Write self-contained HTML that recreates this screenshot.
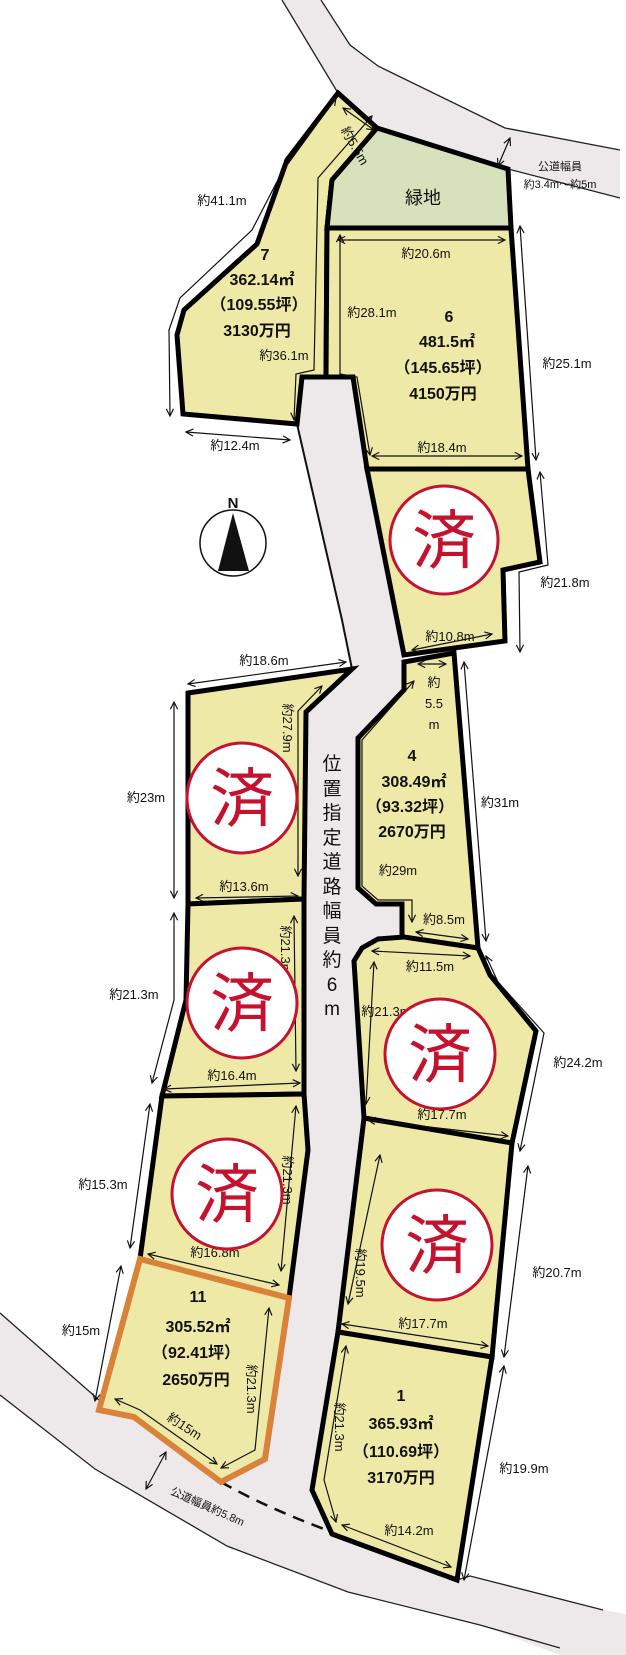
<!DOCTYPE html>
<html><head><meta charset="utf-8"><style>
html,body{margin:0;padding:0;background:#fff;}
svg{display:block;}
text{font-family:"Liberation Sans","Noto Sans CJK JP",sans-serif;fill:#111;}
.b{font-weight:bold;font-size:16px;text-anchor:middle;}
.d{font-size:13px;text-anchor:middle;}
.lot{fill:#efe9a8;stroke:#000;stroke-width:5;stroke-linejoin:miter;}
.ar{fill:none;stroke:#111;stroke-width:1.2;marker-start:url(#m);marker-end:url(#m);}
.sold circle{fill:#fff;stroke:#c4122f;stroke-width:3;}
.sold text{fill:#c4122f;font-size:64px;text-anchor:middle;font-family:"Noto Sans CJK JP",sans-serif;}
</style></head><body>
<svg width="626" height="1655" viewBox="0 0 626 1655" xmlns="http://www.w3.org/2000/svg">
<defs>
<marker id="m" viewBox="0 0 10 10" refX="9" refY="5" markerWidth="9" markerHeight="9" orient="auto-start-reverse" markerUnits="userSpaceOnUse">
<path d="M1,1 L9,5 L1,9" fill="none" stroke="#111" stroke-width="1.3"/>
</marker>
</defs>
<!-- roads -->
<path d="M282,0 L321,0 L350,45 L378,66 L505,128 L620,150 L620,198 L508,169 L377,128 L338,93 Z" fill="#ede9ea"/>
<path d="M282,0 L338,93 M321,0 L350,45 L378,66 L505,128 L620,150 M508,169 L620,198" fill="none" stroke="#222" stroke-width="1.3"/>
<path d="M0,1313 L93,1396 L134,1417 L221,1482 L263,1504 L332,1534 L457,1580 L470,1576 L603,1610 L626,1614 L626,1655 L560,1655 L480,1625 L348,1592 L227,1546 L95,1469 L0,1395 Z" fill="#ede9ea"/>
<path d="M0,1313 L99,1400 M457,1580 L470,1576 L603,1610 M0,1395 L95,1469 L227,1546 L348,1592 L480,1625 L560,1648" fill="none" stroke="#222" stroke-width="1.3"/>
<path d="M302,377 L353,377 L367,469 L404,655 L404,690 L358,738 L358,888 L376,904 L402,904 L402,937 L354,961 L364,1118 L338,1332 L312,1490 L332,1534 L263,1504 L221,1482 L265,1459 L287,1299 L308,1150 L304,1094 L304,900 L306,712 L352,669 L342,620 L297,424 Z" fill="#ede9ea"/>
<path d="M297,424 L342,620 L352,669" fill="none" stroke="#111" stroke-width="2"/>
<path d="M221,1482 Q263,1506 324,1529" fill="none" stroke="#111" stroke-width="2.5" stroke-dasharray="12,8"/>

<!-- lots -->
<path class="lot" d="M338,93 L377,128 L332,180 L327,228 L326,377 L302,377 L297,424 L183,414 L177,335 L184,310 L257,244 L287,160 Z"/>
<path d="M377,128 L508,169 L511,228 L327,228 L332,180 Z" fill="#d7e1bc" stroke="#000" stroke-width="5"/>
<path class="lot" d="M327,228 L511,228 L528,469 L367,469 L353,377 L326,377 Z"/>
<path class="lot" d="M367,469 L528,469 L540,562 L503,570 L505,641 L404,655 Z"/>
<path class="lot" d="M404,662 L454,653 L478,948 L402,937 L402,904 L376,904 L358,888 L358,738 L404,690 Z"/>
<path class="lot" d="M354,961 L362,948 L378,939 L404,937 L478,948 L490,975 L536,1031 L512,1143 L364,1118 Z"/>
<path class="lot" d="M364,1118 L512,1143 L492,1357 L338,1332 Z"/>
<path class="lot" d="M338,1332 L492,1357 L457,1580 L332,1534 L312,1490 Z"/>
<path class="lot" d="M188,693 L352,669 L306,712 L304,899 L188,904 Z"/>
<path class="lot" d="M188,904 L304,899 L304,1094 L162,1096 L186,1000 Z"/>
<path class="lot" d="M162,1096 L304,1094 L308,1150 L289,1298 L140,1259 Z"/>
<path d="M140,1259 L289,1298 L265,1459 L221,1482 L134,1417 L99,1410 Z" fill="#efe9a8" stroke="#d9823a" stroke-width="6"/>

<!-- arrows -->
<path class="ar" d="M336,98 L282,172 L252,230 L180,298 L169,330 L170,416"/>
<path class="ar" d="M186,432 L290,440"/>
<path class="ar" d="M372,116 L318,178 L314,370 L296,374 L294,420"/>
<path class="ar" d="M343,108 L374,130"/>
<path class="ar" d="M338,240 L505,240"/>
<path class="ar" d="M340,235 L340,374 L357,377 L370,455"/>
<path class="ar" d="M520,226 L536,460"/>
<path class="ar" d="M372,456 L522,456"/>
<path class="ar" d="M540,472 L548,565 L519,572 L520,652"/>
<path class="ar" d="M412,650 L492,634"/>
<path class="ar" d="M510,138 L498,166"/>
<path class="ar" d="M188,684 L346,662"/>
<path class="ar" d="M322,686 L298,711 L298,876"/>
<path class="ar" d="M174,702 L174,898"/>
<path class="ar" d="M196,898 L298,896"/>
<path class="ar" d="M418,664 L446,664"/>
<path class="ar" d="M414,681 L362,740 L362,886 L378,900 L412,900 L412,922"/>
<path class="ar" d="M464,662 L486,941"/>
<path class="ar" d="M416,932 L468,939"/>
<path class="ar" d="M372,951 L470,956"/>
<path class="ar" d="M174,913 L174,1000 L152,1083"/>
<path class="ar" d="M294,916 L296,1071"/>
<path class="ar" d="M164,1089 L300,1083"/>
<path class="ar" d="M374,962 L366,1104"/>
<path class="ar" d="M486,956 L498,982 L544,1033 L520,1151"/>
<path class="ar" d="M368,1120 L508,1136"/>
<path class="ar" d="M296,1106 L281,1271"/>
<path class="ar" d="M150,1104 L130,1248"/>
<path class="ar" d="M148,1254 L279,1285"/>
<path class="ar" d="M121,1266 L95,1401"/>
<path class="ar" d="M269,1308 L255,1450 L221,1468"/>
<path class="ar" d="M115,1399 L140,1410 L217,1464"/>
<path class="ar" d="M166,1452 L146,1489"/>
<path class="ar" d="M380,1155 L348,1304"/>
<path class="ar" d="M342,1324 L488,1346"/>
<path class="ar" d="M528,1166 L504,1357"/>
<path class="ar" d="M346,1346 L324,1480 L336,1522"/>
<path class="ar" d="M342,1525 L451,1567"/>
<path class="ar" d="M504,1366 L464,1580"/>

<!-- compass -->
<circle cx="233" cy="543" r="33" fill="#fff" stroke="#111" stroke-width="1.5"/>
<path d="M233,513 L218,571 L249,571 Z" fill="#111"/>
<text x="233" y="508" style="font-weight:bold;font-size:15px;text-anchor:middle;">N</text>

<!-- dimension labels -->
<text class="d" x="222" y="205">約41.1m</text>
<text class="d" x="284" y="360">約36.1m</text>
<text class="d" x="235" y="450">約12.4m</text>
<text class="d" x="426" y="258">約20.6m</text>
<text class="d" x="372" y="317">約28.1m</text>
<text class="d" x="567" y="368">約25.1m</text>
<text class="d" x="442" y="452">約18.4m</text>
<text class="d" x="565" y="587">約21.8m</text>
<text class="d" x="450" y="641">約10.8m</text>
<text class="d" x="560" y="170" style="font-size:11px">公道幅員</text>
<text class="d" x="560" y="188" style="font-size:11px">約3.4m～約5m</text>
<text class="d" x="0" y="0" transform="translate(351,148) rotate(60)">約5.5m</text>
<text x="423" y="204" style="font-size:18px;text-anchor:middle;">緑地</text>
<text class="d" x="264" y="665">約18.6m</text>
<text class="d" x="0" y="0" transform="translate(283,728) rotate(90)">約27.9m</text>
<text class="d" x="434" y="687">約</text>
<text class="d" x="434" y="708">5.5</text>
<text class="d" x="434" y="729">m</text>
<text class="d" x="500" y="807">約31m</text>
<text class="d" x="146" y="802">約23m</text>
<text class="d" x="244" y="891">約13.6m</text>
<text class="d" x="398" y="875">約29m</text>
<text class="d" x="444" y="924">約8.5m</text>
<text class="d" x="430" y="971">約11.5m</text>
<text class="d" x="134" y="999">約21.3m</text>
<text class="d" x="0" y="0" transform="translate(281,950) rotate(90)">約21.3m</text>
<text class="d" x="232" y="1080">約16.4m</text>
<text class="d" x="578" y="1067">約24.2m</text>
<text class="d" x="386" y="1016">約21.3m</text>
<text class="d" x="442" y="1119">約17.7m</text>
<text class="d" x="0" y="0" transform="translate(283,1180) rotate(90)">約21.3m</text>
<text class="d" x="103" y="1189">約15.3m</text>
<text class="d" x="215" y="1257">約16.8m</text>
<text class="d" x="81" y="1335">約15m</text>
<text class="d" x="0" y="0" transform="translate(247,1389) rotate(90)">約21.3m</text>
<text class="d" x="0" y="0" transform="translate(182,1430) rotate(33)">約15m</text>
<text class="d" x="0" y="0" transform="translate(206,1510) rotate(24)" style="font-size:11px">公道幅員約5.8m</text>
<text class="d" x="0" y="0" transform="translate(356,1273) rotate(90)">約19.5m</text>
<text class="d" x="423" y="1328">約17.7m</text>
<text class="d" x="557" y="1277">約20.7m</text>
<text class="d" x="0" y="0" transform="translate(335,1427) rotate(90)">約21.3m</text>
<text class="d" x="524" y="1473">約19.9m</text>
<text class="d" x="409" y="1535">約14.2m</text>
<g style="font-size:19px;text-anchor:middle;">
<text x="332" y="770">位</text><text x="332" y="795">置</text><text x="332" y="819">指</text><text x="332" y="844">定</text><text x="332" y="868">道</text><text x="332" y="893">路</text><text x="332" y="917">幅</text><text x="332" y="942">員</text><text x="332" y="966">約</text><text x="332" y="991">6</text><text x="332" y="1015">m</text>
</g>

<!-- lot info -->
<text class="b" x="265" y="260">7</text>
<text class="b" x="262" y="285">362.14㎡</text>
<text class="b" x="259" y="310">（109.55坪）</text>
<text class="b" x="257" y="336">3130万円</text>
<text class="b" x="449" y="322">6</text>
<text class="b" x="447" y="347">481.5㎡</text>
<text class="b" x="443" y="373">（145.65坪）</text>
<text class="b" x="443" y="399">4150万円</text>
<text class="b" x="412" y="761">4</text>
<text class="b" x="414" y="787">308.49㎡</text>
<text class="b" x="410" y="812">（93.32坪）</text>
<text class="b" x="412" y="837">2670万円</text>
<text class="b" x="198" y="1302">11</text>
<text class="b" x="198" y="1332">305.52㎡</text>
<text class="b" x="196" y="1358">（92.41坪）</text>
<text class="b" x="196" y="1385">2650万円</text>
<text class="b" x="401" y="1401">1</text>
<text class="b" x="401" y="1429">365.93㎡</text>
<text class="b" x="401" y="1457">（110.69坪）</text>
<text class="b" x="401" y="1483">3170万円</text>

<!-- sold marks -->
<g class="sold">
<circle cx="444" cy="540" r="54"/><text x="444" y="563">済</text>
<circle cx="242" cy="798" r="55"/><text x="242" y="821">済</text>
<circle cx="242" cy="1003" r="55"/><text x="242" y="1026">済</text>
<circle cx="227" cy="1194" r="55"/><text x="227" y="1217">済</text>
<circle cx="440" cy="1054" r="55"/><text x="440" y="1077">済</text>
<circle cx="437" cy="1245" r="55"/><text x="437" y="1268">済</text>
</g>
</svg>
</body></html>
